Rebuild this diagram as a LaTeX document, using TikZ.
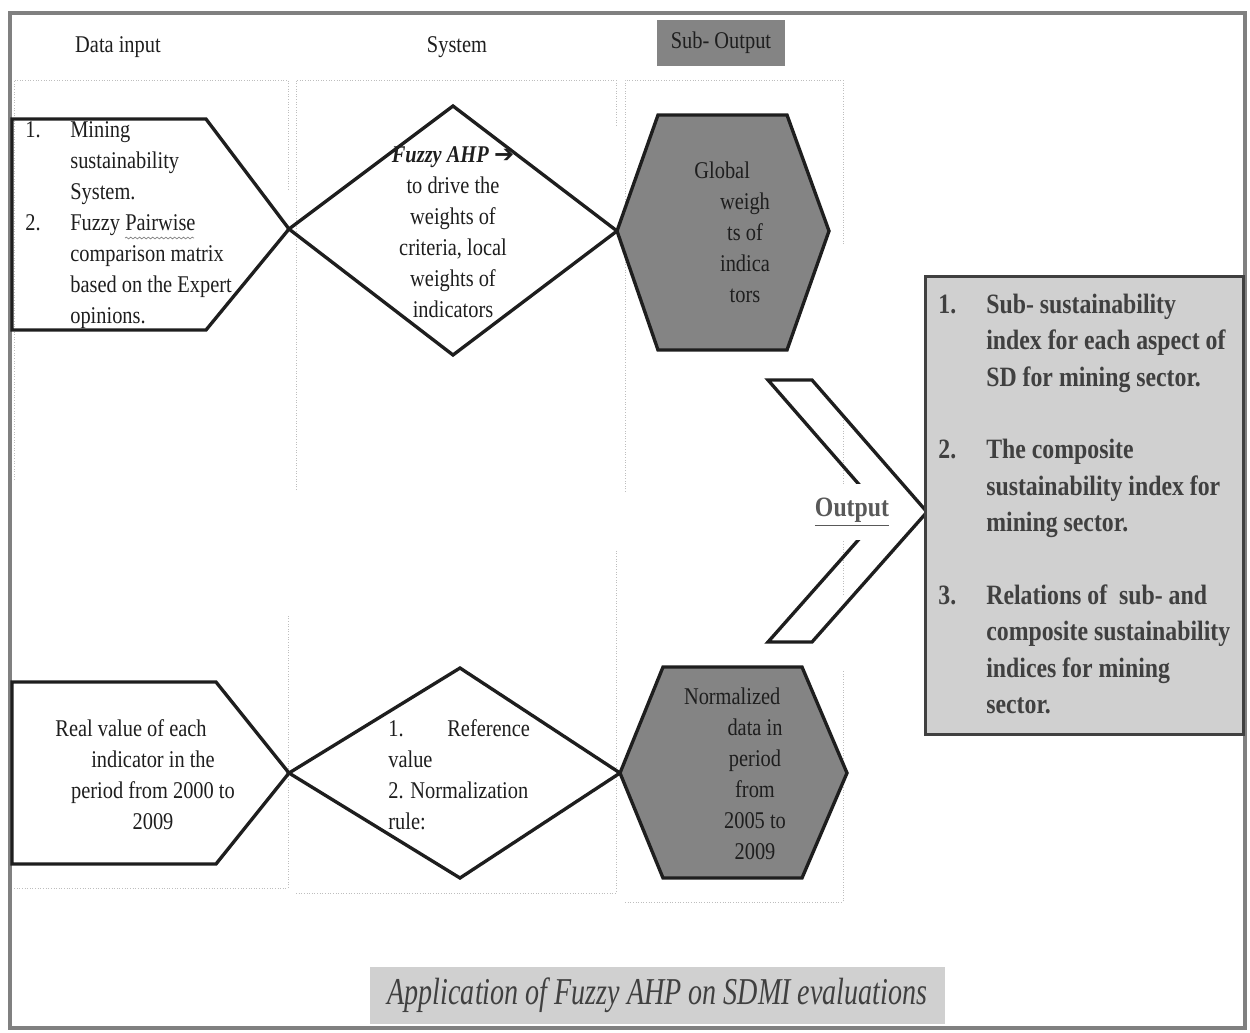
\documentclass[tikz,border=0pt]{standalone}
\usepackage{fontspec}
\setmainfont{Liberation Serif}[FakeStretch=0.85]
\newfontfamily\capfont{Liberation Serif}[FakeStretch=0.74]
\newfontfamily\arrowfont{DejaVu Sans}
\usetikzlibrary{positioning}
\usetikzlibrary{calc}
\usetikzlibrary{decorations.pathmorphing}
\definecolor{framegray}{RGB}{128,128,128}
\definecolor{dotgray}{RGB}{190,190,190}
\definecolor{hexgray}{RGB}{132,132,132}
\definecolor{boxgray}{RGB}{208,208,208}
\definecolor{inkgray}{RGB}{64,64,64}
\definecolor{outgray}{RGB}{89,89,89}
\definecolor{ink}{RGB}{30,30,30}
\newcommand{\lnum}[1]{\makebox[25.6pt][l]{#1}}
\newcommand{\lind}{\hspace*{25.6pt}}
\newcommand{\bnum}[1]{\makebox[27.3pt][l]{#1}}
\newcommand{\bind}{\hspace*{27.3pt}}

\begin{document}
\begin{tikzpicture}[x=0.02cm,y=-0.02cm,
		txt/.style={font=\fontsize{13.66pt}{17.64pt}\selectfont, text=ink, inner sep=0pt},
		outtxt/.style={font=\fontsize{15.93pt}{20.7pt}\selectfont\bfseries, text=inkgray, inner sep=0pt},
		shapeline/.style={line width=1.9pt, draw=ink, line join=miter},
		hexshape/.style={shapeline, fill=hexgray},
		colline/.style={densely dotted, line width=0.5pt, draw=dotgray}]
			\useasboundingbox (0,0) rectangle (1250,1032);

			% Frame
			\draw[framegray, line width=2pt] (10,13) rectangle (1245,1028);

			% Column boxes
			\draw[colline] (14,480) -- (14,80) -- (288,80) -- (288,190);
			\draw[colline] (296,490) -- (296,80) -- (616,80) -- (616,125);
			\draw[colline] (625,492) -- (625,80) -- (843,80) -- (843,245);
			\draw[colline] (843,420) -- (843,595);
			\draw[colline] (14,888) -- (288,888) -- (288,615);
			\draw[colline] (296,893) -- (616,893) -- (616,550);
			\draw[colline] (625,902) -- (843,902) -- (843,670);

			% Column titles
			\node[txt] (datahead) at (118,47) {Data input};
			\node[txt] (syshead) at (457,47) {System};
			\node[txt, fill=hexgray, minimum width=72.8pt, minimum height=26.2pt] (subhead) at (721,43) {Sub- Output};

			% Upper row
			\coordinate (tipA) at (289,229);
			\coordinate (tipB) at (617,231);
			\draw[shapeline] (12,119) -- (206,119) -- (tipA) -- (206,330) -- (12,330) -- cycle;
			\draw[shapeline] (tipA) -- (453,106) -- (tipB) -- (453,355) -- cycle;
			\draw[hexshape] (tipB) -- (658,115) -- (787,115) -- (829,231) -- (787,350) -- (658,350) -- cycle;

			\node[txt, align=left, anchor=west] (inlist) at (25,225)
				{\lnum{1.}Mining\\ \lind sustainability\\ \lind System.\\ \lnum{2.}Fuzzy Pairwise\\ \lind comparison matrix\\ \lind based on the Expert\\ \lind opinions.};
			\draw[decorate, decoration={snake, amplitude=0.5pt, segment length=2.5pt}, gray, line width=0.4pt] (125,238) -- (194,238);
			\node[txt, align=center] (fahp) at (453,232)
				{\textbf{\textit{Fuzzy AHP}} {\arrowfont\bfseries ➔}\\to drive the\\weights of\\criteria, local\\weights of\\indicators};
			\node[txt, align=center] (globw) at (745,232) {Global\hspace*{26pt}\\weigh\\ts of\\indica\\tors};

			% Lower row
			\coordinate (tipC) at (289,773);
			\coordinate (tipD) at (620,773);
			\draw[shapeline] (12,682) -- (216,682) -- (tipC) -- (216,864) -- (12,864) -- cycle;
			\draw[shapeline] (tipC) -- (460,668) -- (tipD) -- (460,878) -- cycle;
			\draw[hexshape] (tipD) -- (663,667) -- (802,667) -- (847,773) -- (802,878) -- (663,878) -- cycle;

			\node[txt, align=center] (realval) at (153,775) {Real value of each\hspace*{25pt}\\indicator in the\\period from 2000 to\\2009};
			\node[txt, align=left, anchor=west] (normrule) at (388,775) {\makebox[33.6pt][l]{1.}Reference\\value\\2. Normalization\\rule:};
			\node[txt, align=center] (normdata) at (755,774) {Normalized\hspace*{26pt}\\data in\\period\\from\\2005 to\\2009};

			% Output
			\draw[shapeline] (768,380) -- (812,380) -- (927,512) -- (812,642) -- (768,642) -- (883,512) -- cycle;
			\node[outtxt, text=outgray, fill=white, inner xsep=1.5pt, inner ysep=8pt] (outlbl) at (852,512) {\underline{Output}};
			\draw[line width=1.7pt, draw=inkgray, fill=boxgray] (925,276) rectangle (1243,734);
			\node[outtxt, align=left, anchor=west] (outlist) at (938,504)
				{\bnum{1.}Sub- sustainability\\ \bind index for each aspect of\\ \bind SD for mining sector.\\[20.7pt]
				 \bnum{2.}The composite\\ \bind sustainability index for\\ \bind mining sector.\\[20.7pt]
				 \bnum{3.}Relations of\ \ sub- and\\ \bind composite sustainability\\ \bind indices for mining\\ \bind sector.};

			% Caption
			\node[font=\capfont\fontsize{21.6pt}{24pt}\selectfont\itshape, text=inkgray, fill=boxgray, minimum width=327.2pt, minimum height=32.4pt, inner sep=0pt] (caption) at (657.5,995.5) {Application of Fuzzy AHP on SDMI evaluations};
		\end{tikzpicture}
\end{document}
